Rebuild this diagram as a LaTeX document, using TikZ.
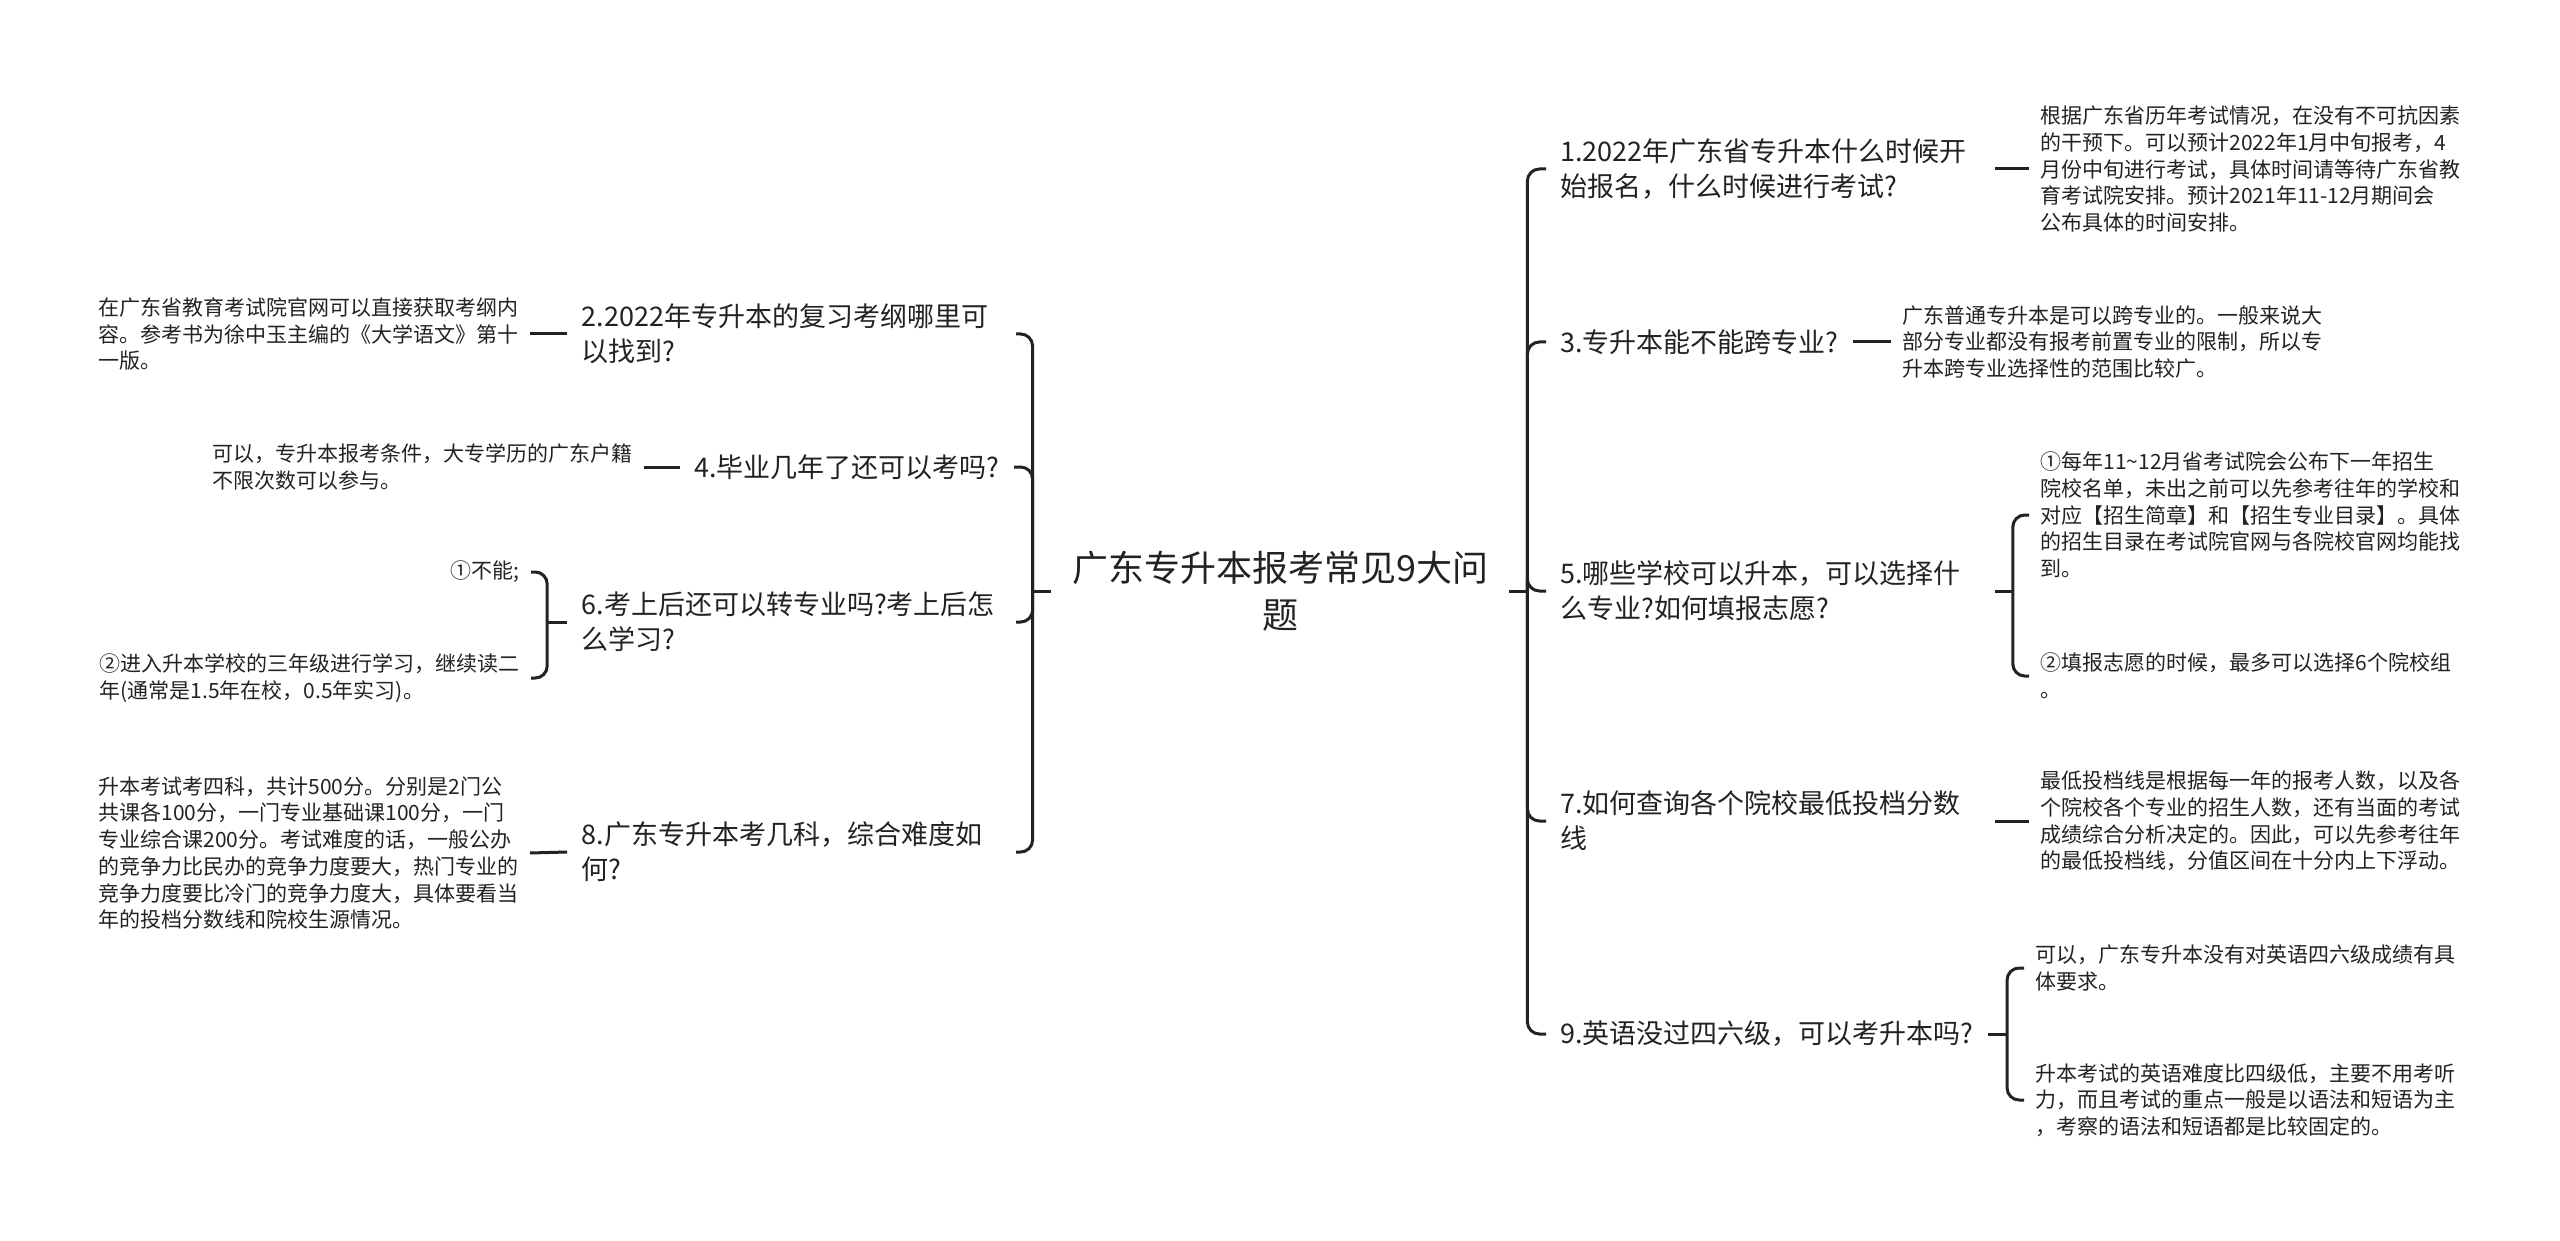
\documentclass[tikz,border=0pt]{standalone}
\usepackage{fontspec}
\usepackage{xcolor}
\usepackage{tikz}
\newfontfamily\cjk{Noto Sans CJK SC}
\definecolor{ink}{HTML}{222222}

\begin{document}
\begin{tikzpicture}[
  x=0.5pt, y=-0.5pt,
  root/.style={font=\cjk\fontsize{18}{23.5}\selectfont, align=center,
    inner xsep=10.5pt, text=ink},
  topic/.style={font=\cjk\fontsize{13.5}{17.5}\selectfont, align=left,
    inner xsep=7pt, inner ysep=3pt, text=ink},
  topicwide/.style={topic, text width=210pt},
  note/.style={font=\cjk\fontsize{10.5}{13.35}\selectfont, align=left,
    inner xsep=5.5pt, inner ysep=3pt, text=ink},
  notewide/.style={note, text width=210pt},
  link/.style={line width=1.5pt, draw=ink},
  elbow/.style={link, rounded corners=6pt}
]
  \useasboundingbox (0,0) rectangle (2560,1241);

  \node[root] (root) at (1280,591) {广东专升本报考常见9大问\\题};

  \node[topicwide, anchor=west] (c1) at (1546,169) {1.2022年广东省专升本什么时候开\\始报名，什么时候进行考试?};
  \node[topic, anchor=west] (c3) at (1546,342) {3.专升本能不能跨专业?};
  \node[topicwide, anchor=west] (c5) at (1546,591) {5.哪些学校可以升本，可以选择什\\么专业?如何填报志愿?};
  \node[topicwide, anchor=west] (c7) at (1546,821) {7.如何查询各个院校最低投档分数\\线};
  \node[topic, anchor=west] (c9) at (1546,1034) {9.英语没过四六级，可以考升本吗?};

  \node[topicwide, anchor=east] (c2) at (1016,334) {2.2022年专升本的复习考纲哪里可\\以找到?};
  \node[topic, anchor=east] (c4) at (1014,467) {4.毕业几年了还可以考吗?};
  \node[topicwide, anchor=east] (c6) at (1016,622) {6.考上后还可以转专业吗?考上后怎\\么学习?};
  \node[topicwide, anchor=east] (c8) at (1016,852) {8.广东专升本考几科，综合难度如\\何?};

  \node[notewide, anchor=west] (d1) at (2029,169) {根据广东省历年考试情况，在没有不可抗因素\\的干预下。可以预计2022年1月中旬报考，4\\月份中旬进行考试，具体时间请等待广东省教\\育考试院安排。预计2021年11-12月期间会\\公布具体的时间安排。};
  \node[notewide, anchor=west] (d3) at (1891,342) {广东普通专升本是可以跨专业的。一般来说大\\部分专业都没有报考前置专业的限制，所以专\\升本跨专业选择性的范围比较广。};
  \node[notewide, anchor=west] (d5a) at (2029,515) {①每年11\textasciitilde 12月省考试院会公布下一年招生\\院校名单，未出之前可以先参考往年的学校和\\对应【招生简章】和【招生专业目录】。具体\\的招生目录在考试院官网与各院校官网均能找\\到。};
  \node[notewide, anchor=west] (d5b) at (2029,676) {②填报志愿的时候，最多可以选择6个院校组\\。};
  \node[notewide, anchor=west] (d7) at (2029,821) {最低投档线是根据每一年的报考人数，以及各\\个院校各个专业的招生人数，还有当面的考试\\成绩综合分析决定的。因此，可以先参考往年\\的最低投档线，分值区间在十分内上下浮动。};
  \node[notewide, anchor=west] (d9a) at (2024,968) {可以，广东专升本没有对英语四六级成绩有具\\体要求。};
  \node[notewide, anchor=west] (d9b) at (2024,1100) {升本考试的英语难度比四级低，主要不用考听\\力，而且考试的重点一般是以语法和短语为主\\，考察的语法和短语都是比较固定的。};

  \node[notewide, anchor=east] (d2) at (530,334) {在广东省教育考试院官网可以直接获取考纲内\\容。参考书为徐中玉主编的《大学语文》第十\\一版。};
  \node[notewide, anchor=east] (d4) at (644,467) {可以，专升本报考条件，大专学历的广东户籍\\不限次数可以参与。};
  \node[note, anchor=east] (d6a) at (531,572) {①不能;};
  \node[notewide, anchor=east] (d6b) at (531,678) {②进入升本学校的三年级进行学习，继续读二\\年(通常是1.5年在校，0.5年实习)。};
  \node[notewide, anchor=east] (d8) at (530,853) {升本考试考四科，共计500分。分别是2门公\\共课各100分，一门专业基础课100分，一门\\专业综合课200分。考试难度的话，一般公办\\的竞争力比民办的竞争力度要大，热门专业的\\竞争力度要比冷门的竞争力度大，具体要看当\\年的投档分数线和院校生源情况。};

  \draw[link] (root.east) -- ++(18,0) coordinate (jr);
  \draw[link] (root.west) -- ++(-18,0) coordinate (jl);
  \foreach \t in {c1,c3,c5,c7,c9}
    \draw[elbow] (jr) |- (\t.west);
  \foreach \t in {c2,c4,c6,c8}
    \draw[elbow] (jl) |- (\t.east);

  \draw[link] (c1.east) -- (d1.west);
  \draw[link] (c3.east) -- (d3.west);
  \draw[link] (c7.east) -- (d7.west);
  \draw[link] (d2.east) -- (c2.west);
  \draw[link] (d4.east) -- (c4.west);
  \draw[link] (d8.east) -- (c8.west);

  \draw[link] (c5.east) -- ++(18,0) coordinate (j5);
  \draw[elbow] (j5) |- (d5a.west);
  \draw[elbow] (j5) |- (d5b.west);
  \draw[link] (c9.east) -- ++(19,0) coordinate (j9);
  \draw[elbow] (j9) |- (d9a.west);
  \draw[elbow] (j9) |- (d9b.west);
  \draw[link] (c6.west) -- ++(-20,0) coordinate (j6);
  \draw[elbow] (j6) |- (d6a.east);
  \draw[elbow] (j6) |- (d6b.east);
\end{tikzpicture}
\end{document}
